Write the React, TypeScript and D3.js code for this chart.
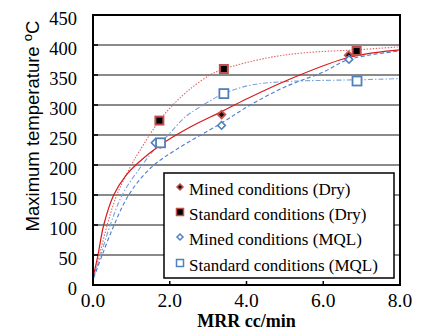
import * as d3 from "d3";

// measured points
const mrrMinedDry = [1.75, 3.35, 6.66];
const tempMinedDry = [235, 284, 383];
const mrrStdDry = [1.73, 3.41, 6.87];
const tempStdDry = [274, 360, 390];
const mrrMinedMql = [1.62, 3.35, 6.67];
const tempMinedMql = [237, 266, 376];
const mrrStdMql = [1.76, 3.41, 6.88];
const tempStdMql = [237, 319, 340];

// trend lines
const trendMinedDryX = [0.02, 0.13, 0.28, 0.54, 0.85, 1.2, 1.75, 2.5, 3.35, 4.0, 5.2, 6.7, 8.0];
const trendMinedDryY = [18, 50, 100, 150, 182, 205, 233, 262, 289, 310, 345, 380, 392];
const trendStdDryX = [0.02, 0.17, 0.37, 0.62, 1.0, 1.2, 1.73, 2.08, 2.5, 3.05, 3.41, 4.5, 5.5, 6.87, 8.0];
const trendStdDryY = [14, 50, 100, 150, 200, 222, 274, 300, 325, 350, 360, 378, 387, 392, 397];
const trendMinedMqlX = [0.02, 0.24, 0.55, 0.93, 1.5, 2.2, 3.35, 4.1, 5.0, 6.0, 6.67, 8.0];
const trendMinedMqlY = [12, 50, 100, 150, 195, 227, 270, 300, 330, 355, 376, 390];
const trendStdMqlX = [0.02, 0.2, 0.45, 0.76, 1.2, 1.75, 1.96, 2.4, 2.87, 3.41, 4.1, 5.0, 6.0, 6.88, 8.0];
const trendStdMqlY = [14, 50, 100, 150, 193, 237, 250, 280, 300, 319, 333, 339, 341, 342, 344];

const xTicks = [0, 2, 4, 6, 8];
const yTicks = [0, 50, 100, 150, 200, 250, 300, 350, 400, 450];

const legendLabels = [
  "Mined conditions (Dry)",
  "Standard conditions (Dry)",
  "Mined conditions (MQL)",
  "Standard conditions (MQL)",
];

const RED = "#c0504d";
const BLUE = "#4f81bd";

export default function App() {
  const W = 428;
  const H = 331;
  const left = 93, right = 400, top = 15, bottom = 285;

  const x = d3.scaleLinear().domain([0, 8]).range([left, right]);
  const y = d3.scaleLinear().domain([0, 450]).range([bottom, top]);

  const line = d3
    .line<[number, number]>()
    .x((d) => x(d[0]))
    .y((d) => y(d[1]))
    .curve(d3.curveCatmullRom.alpha(0.5));

  const zip = (xs: number[], ys: number[]) => xs.map((v, i) => [v, ys[i]] as [number, number]);

  const diamond = (cx: number, cy: number, r: number) =>
    `M${cx},${cy - r}L${cx + r},${cy}L${cx},${cy + r}L${cx - r},${cy}Z`;

  const serif = "'Liberation Serif', 'Times New Roman', serif";
  const sans = "'Liberation Sans', Arial, sans-serif";

  const legendRowY = [187, 212, 237, 263];

  return (
    <svg
      width={W}
      height={H}
      style={{ position: "absolute", left: 0, top: 0, background: "#fff" }}
    >
      {/* gridlines */}
      {yTicks
        .filter((t) => t > 0 && t < 450)
        .map((t) => (
          <line key={"g" + t} x1={left} x2={right} y1={y(t)} y2={y(t)} stroke="#8a8a8a" strokeWidth={1.8} />
        ))}

      {/* trend lines */}
      <path d={line(zip(trendStdDryX, trendStdDryY)) || ""} fill="none" stroke="#e06666" strokeWidth={1.1} strokeDasharray="1.5,1.5" />
      <path d={line(zip(trendStdMqlX, trendStdMqlY)) || ""} fill="none" stroke="#7ba4dc" strokeWidth={1.1} strokeDasharray="5,2,1.5,2" />
      <path d={line(zip(trendMinedMqlX, trendMinedMqlY)) || ""} fill="none" stroke="#4a7fcf" strokeWidth={1.1} strokeDasharray="4,2.5" />
      <path d={line(zip(trendMinedDryX, trendMinedDryY)) || ""} fill="none" stroke="#d7191c" strokeWidth={1.2} />

      {/* markers */}
      {mrrMinedDry.map((m, i) => (
        <path key={"md" + i} d={diamond(x(m), y(tempMinedDry[i]), 3.8)} fill="#111" stroke={RED} strokeWidth={1.8} />
      ))}
      {mrrStdDry.map((m, i) => (
        <rect key={"sd" + i} x={x(m) - 4} y={y(tempStdDry[i]) - 4} width={8} height={8} fill="#000" stroke={RED} strokeWidth={2} />
      ))}
      {mrrMinedMql.map((m, i) => (
        <path key={"mm" + i} d={diamond(x(m), y(tempMinedMql[i]), 3.8)} fill="#fff" stroke={BLUE} strokeWidth={1.6} />
      ))}
      {mrrStdMql.map((m, i) => (
        <rect key={"sm" + i} x={x(m) - 4.5} y={y(tempStdMql[i]) - 4.5} width={9} height={9} fill="#fff" stroke={BLUE} strokeWidth={1.8} />
      ))}

      {/* frame */}
      <rect x={left} y={top} width={right - left} height={bottom - top} fill="none" stroke="#000" strokeWidth={2} />

      {/* ticks */}
      {yTicks.map((t) => (
        <line key={"yt" + t} x1={left} x2={left + 5} y1={y(t)} y2={y(t)} stroke="#000" strokeWidth={1.5} />
      ))}
      {xTicks.map((t) => (
        <line key={"xt" + t} x1={x(t)} x2={x(t)} y1={bottom} y2={bottom - 4} stroke="#000" strokeWidth={1.5} />
      ))}

      {/* tick labels */}
      {yTicks.map((t) => (
        <text key={"yl" + t} x={77} y={y(t) + 10} textAnchor="end" fontFamily={serif} fontSize={18.5} fill="#000">
          {t}
        </text>
      ))}
      {xTicks.map((t) => (
        <text key={"xl" + t} x={x(t)} y={307} textAnchor="middle" fontFamily={serif} fontSize={19.5} fill="#000">
          {t.toFixed(1)}
        </text>
      ))}

      {/* axis titles */}
      <text x={x(4)} y={327} textAnchor="middle" fontFamily={serif} fontWeight="bold" fontSize={18} fill="#000">
        MRR cc/min
      </text>
      <text transform="translate(39,126) rotate(-90)" textAnchor="middle" fontFamily={sans} fontSize={18.5} fill="#000">
        Maximum temperature <tspan dy={-7} fontSize={13}>o</tspan>
        <tspan dy={7}>C</tspan>
      </text>

      {/* legend */}
      <rect x={164} y={173} width={230} height={105} fill="#fff" stroke="#000" strokeWidth={1.5} />
      <path d={diamond(180, legendRowY[0], 3)} fill="#111" stroke={RED} strokeWidth={1.5} />
      <rect x={176.5} y={legendRowY[1] - 3.5} width={7} height={7} fill="#000" stroke={RED} strokeWidth={1.5} />
      <path d={diamond(180, legendRowY[2], 3)} fill="#fff" stroke={BLUE} strokeWidth={1.5} />
      <rect x={176.5} y={legendRowY[3] - 3.5} width={7} height={7} fill="#fff" stroke={BLUE} strokeWidth={1.5} />
      {legendLabels.map((l, i) => (
        <text key={l} x={189} y={legendRowY[i] + 8} fontFamily={serif} fontSize={17} fill="#000">
          {l}
        </text>
      ))}
    </svg>
  );
}
